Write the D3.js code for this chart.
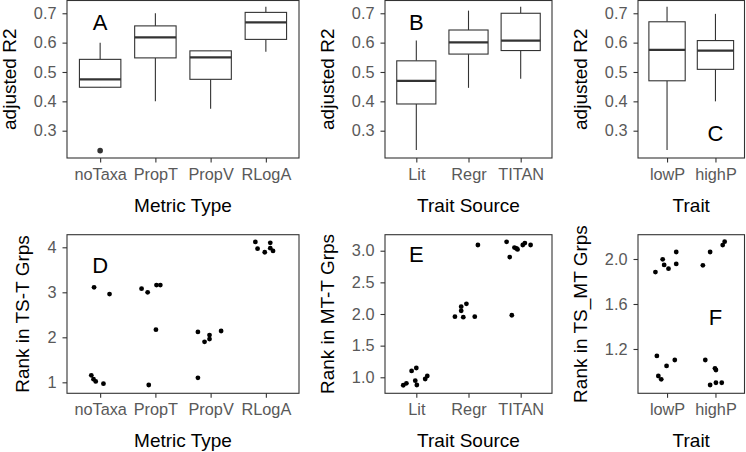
<!DOCTYPE html>
<html>
<head>
<meta charset="utf-8">
<script src="https://cdn.jsdelivr.net/npm/d3@7"></script>
<style>
body { margin: 0; background: #fff; }
svg { display: block; font-family: "Liberation Sans", Arial, sans-serif; }
</style>
</head>
<body>
<svg width="746" height="452"></svg>
<script>
const metricTypes = ["noTaxa", "PropT", "PropV", "RLogA"];
const traitSources = ["Lit", "Regr", "TITAN"];
const traits = ["lowP", "highP"];

// boxplot stats: group, lower whisker, Q1, median, Q3, upper whisker
const r2ByMetric = [
    ["noTaxa", 0.447, 0.448, 0.475, 0.543, 0.600],
    ["PropT", 0.400, 0.548, 0.618, 0.657, 0.700],
    ["PropV", 0.375, 0.475, 0.550, 0.572, 0.573],
    ["RLogA", 0.569, 0.611, 0.669, 0.703, 0.722]
];
const r2ByMetricOutliers = [["noTaxa", 0.232]];
const r2BySource = [
    ["Lit", 0.234, 0.391, 0.470, 0.538, 0.607],
    ["Regr", 0.446, 0.561, 0.601, 0.643, 0.709],
    ["TITAN", 0.477, 0.573, 0.607, 0.700, 0.722]
];
const r2ByTrait = [
    ["lowP", 0.234, 0.470, 0.575, 0.671, 0.722],
    ["highP", 0.400, 0.509, 0.573, 0.607, 0.698]
];

// jittered points: group, jitter (share of category step), rank
const rankTS_T = [
    ["noTaxa", -0.11, 3.11], ["noTaxa", 0.17, 2.96], ["noTaxa", -0.16, 1.156],
    ["noTaxa", -0.12, 1.07], ["noTaxa", -0.08, 1.02], ["noTaxa", 0.06, 0.97],
    ["PropT", -0.25, 3.08], ["PropT", -0.14, 3.00], ["PropT", 0.02, 3.16],
    ["PropT", 0.09, 3.16], ["PropT", 0.01, 2.17], ["PropT", -0.12, 0.94],
    ["PropV", -0.23, 2.12], ["PropV", -0.11, 1.90], ["PropV", -0.02, 2.05],
    ["PropV", -0.02, 1.96], ["PropV", 0.19, 2.14], ["PropV", -0.23, 1.10],
    ["RLogA", -0.19, 4.12], ["RLogA", -0.15, 3.97], ["RLogA", -0.02, 3.89],
    ["RLogA", 0.08, 4.10], ["RLogA", 0.08, 3.98], ["RLogA", 0.13, 3.92]
];
const rankMT_T = [
    ["Lit", -0.25, 0.874], ["Lit", -0.19, 0.905], ["Lit", -0.09, 1.10], ["Lit", 0.00, 1.147],
    ["Lit", -0.02, 0.946], ["Lit", 0.01, 0.878], ["Lit", 0.17, 0.973], ["Lit", 0.21, 1.02],
    ["Regr", 0.18, 3.09], ["Regr", -0.26, 1.957], ["Regr", -0.14, 2.05], ["Regr", -0.14, 2.115],
    ["Regr", -0.04, 2.16], ["Regr", -0.10, 1.95], ["Regr", 0.12, 1.957],
    ["TITAN", -0.27, 3.14], ["TITAN", -0.12, 3.05], ["TITAN", -0.08, 3.035], ["TITAN", -0.06, 3.02],
    ["TITAN", 0.04, 3.09], ["TITAN", 0.08, 3.12], ["TITAN", 0.19, 3.09],
    ["TITAN", -0.21, 2.90], ["TITAN", -0.17, 1.98]
];
const rankTS_MT = [
    ["lowP", -0.24, 1.884], ["lowP", -0.09, 1.997], ["lowP", -0.06, 1.947], ["lowP", 0.03, 1.914],
    ["lowP", 0.19, 2.062], ["lowP", 0.19, 1.956], ["lowP", -0.21, 1.138], ["lowP", -0.01, 1.049],
    ["lowP", 0.16, 1.102], ["lowP", -0.18, 0.96], ["lowP", -0.12, 0.93],
    ["highP", -0.26, 1.944], ["highP", -0.11, 2.062], ["highP", 0.15, 2.124], ["highP", 0.19, 2.154],
    ["highP", -0.21, 1.102], ["highP", -0.01, 1.028], ["highP", 0.01, 1.013],
    ["highP", -0.11, 0.88], ["highP", 0.01, 0.90], ["highP", 0.13, 0.90]
];

const r2Ticks = [0.3, 0.4, 0.5, 0.6, 0.7];
const rankTS_TTicks = [1, 2, 3, 4];
const rankMT_TTicks = [1.0, 1.5, 2.0, 2.5, 3.0];
const rankTS_MTTicks = [1.2, 1.6, 2.0];

// panel letter: text, group, value
const labelA = ["A", "noTaxa", 0.67];
const labelB = ["B", "Lit", 0.67];
const labelC = ["C", "highP", 0.293];
const labelD = ["D", "noTaxa", 3.6];
const labelE = ["E", "Lit", 2.95];
const labelF = ["F", "highP", 1.487];

const cols = [[67, 299], [385, 552], [638, 744.5]];
const rows = [[0.5, 158], [234.7, 393.3]];

function createPanel(svg, cats, area, yDomain, yTicks, fmt, xTitle, yTitle) {
    let scaleX = d3.scalePoint()
        .domain(cats)
        .range([area.x0, area.x1])
        .padding(0.6);
    let scaleY = d3.scaleLinear()
        .domain(yDomain)
        .range([area.y1, area.y0]);

    let axisX = d3.axisBottom(scaleX).tickSize(4.5).tickPadding(6);
    let axisY = d3.axisLeft(scaleY).tickValues(yTicks).tickFormat(d3.format(fmt))
        .tickSize(4.5).tickPadding(6);

    let gx = svg.append("g")
        .attr("transform", `translate(0, ${area.y1})`)
        .call(axisX);
    let gy = svg.append("g")
        .attr("transform", `translate(${area.x0}, 0)`)
        .call(axisY);

    for (let g of [gx, gy]) {
        g.attr("font-family", null).attr("font-size", null);
        g.select(".domain").remove();
        g.selectAll("line").attr("stroke", "#333").attr("stroke-width", 1.1);
        g.selectAll("text").attr("fill", "#595959").style("font-size", "16.3px");
    }

    // y title sits next to the widest tick label
    const box = gy.node().getBBox();
    const titleX = Math.max(area.x0 + box.x - 18, 15);
    svg.append("text")
        .attr("transform", `translate(${titleX}, ${(area.y0 + area.y1) / 2}) rotate(-90)`)
        .attr("text-anchor", "middle")
        .style("font-size", "19px")
        .text(yTitle);

    svg.append("text")
        .attr("x", (area.x0 + area.x1) / 2)
        .attr("y", area.y1 + 54)
        .attr("text-anchor", "middle")
        .style("font-size", "19px")
        .text(xTitle);

    return [scaleX, scaleY];
}

function drawBorder(svg, area) {
    svg.append("rect")
        .attr("x", area.x0)
        .attr("y", area.y0)
        .attr("width", area.x1 - area.x0)
        .attr("height", area.y1 - area.y0)
        .attr("fill", "none")
        .attr("stroke", "#333")
        .attr("stroke-width", 1.1);
}

function drawLabel(svg, label, scaleX, scaleY) {
    svg.append("text")
        .attr("x", scaleX(label[1]))
        .attr("y", scaleY(label[2]))
        .attr("text-anchor", "middle")
        .attr("dy", "0.36em")
        .style("font-size", "22px")
        .text(label[0]);
}

function drawBoxes(svg, data, outliers, scaleX, scaleY) {
    const bw = scaleX.step() * 0.75;

    svg.selectAll(".whisker-hi")
        .data(data)
        .enter()
        .append("line")
        .attr("x1", d => scaleX(d[0]))
        .attr("x2", d => scaleX(d[0]))
        .attr("y1", d => scaleY(d[5]))
        .attr("y2", d => scaleY(d[4]))
        .attr("stroke", "#333")
        .attr("stroke-width", 1.1);

    svg.selectAll(".whisker-lo")
        .data(data)
        .enter()
        .append("line")
        .attr("x1", d => scaleX(d[0]))
        .attr("x2", d => scaleX(d[0]))
        .attr("y1", d => scaleY(d[2]))
        .attr("y2", d => scaleY(d[1]))
        .attr("stroke", "#333")
        .attr("stroke-width", 1.1);

    svg.selectAll(".box")
        .data(data)
        .enter()
        .append("rect")
        .attr("x", d => scaleX(d[0]) - bw / 2)
        .attr("y", d => scaleY(d[4]))
        .attr("width", bw)
        .attr("height", d => scaleY(d[2]) - scaleY(d[4]))
        .attr("fill", "white")
        .attr("stroke", "#333")
        .attr("stroke-width", 1.1);

    svg.selectAll(".median")
        .data(data)
        .enter()
        .append("line")
        .attr("x1", d => scaleX(d[0]) - bw / 2)
        .attr("x2", d => scaleX(d[0]) + bw / 2)
        .attr("y1", d => scaleY(d[3]))
        .attr("y2", d => scaleY(d[3]))
        .attr("stroke", "#333")
        .attr("stroke-width", 2.2);

    svg.selectAll(".outlier")
        .data(outliers)
        .enter()
        .append("circle")
        .attr("cx", d => scaleX(d[0]))
        .attr("cy", d => scaleY(d[1]))
        .attr("r", 2.8)
        .attr("fill", "#333");
}

function drawJitter(svg, data, scaleX, scaleY) {
    svg.selectAll(".pt")
        .data(data)
        .enter()
        .append("circle")
        .attr("cx", d => scaleX(d[0]) + d[1] * scaleX.step())
        .attr("cy", d => scaleY(d[2]))
        .attr("r", 2.4)
        .attr("fill", "black");
}

function area(c, r) {
    return { x0: cols[c][0], x1: cols[c][1], y0: rows[r][0], y1: rows[r][1] };
}

let svg = d3.select("svg");
const r2Domain = [0.207, 0.7435];

// A
let aA = area(0, 0);
let [sxA, syA] = createPanel(svg, metricTypes, aA, r2Domain, r2Ticks, ".1f", "Metric Type", "adjusted R2");
drawBoxes(svg, r2ByMetric, r2ByMetricOutliers, sxA, syA);
drawLabel(svg, labelA, sxA, syA);
drawBorder(svg, aA);

// B
let aB = area(1, 0);
let [sxB, syB] = createPanel(svg, traitSources, aB, r2Domain, r2Ticks, ".1f", "Trait Source", "adjusted R2");
drawBoxes(svg, r2BySource, [], sxB, syB);
drawLabel(svg, labelB, sxB, syB);
drawBorder(svg, aB);

// C
let aC = area(2, 0);
let [sxC, syC] = createPanel(svg, traits, aC, r2Domain, r2Ticks, ".1f", "Trait", "adjusted R2");
drawBoxes(svg, r2ByTrait, [], sxC, syC);
drawLabel(svg, labelC, sxC, syC);
drawBorder(svg, aC);

// D
let aD = area(0, 1);
let [sxD, syD] = createPanel(svg, metricTypes, aD, [0.756, 4.28], rankTS_TTicks, "d", "Metric Type", "Rank in TS-T Grps");
drawJitter(svg, rankTS_T, sxD, syD);
drawLabel(svg, labelD, sxD, syD);
drawBorder(svg, aD);

// E
let aE = area(1, 1);
let [sxE, syE] = createPanel(svg, traitSources, aE, [0.747, 3.253], rankMT_TTicks, ".1f", "Trait Source", "Rank in MT-T Grps");
drawJitter(svg, rankMT_T, sxE, syE);
drawLabel(svg, labelE, sxE, syE);
drawBorder(svg, aE);

// F
let aF = area(2, 1);
let [sxF, syF] = createPanel(svg, traits, aF, [0.806, 2.216], rankTS_MTTicks, ".1f", "Trait", "Rank in TS_MT Grps");
drawJitter(svg, rankTS_MT, sxF, syF);
drawLabel(svg, labelF, sxF, syF);
drawBorder(svg, aF);
</script>
</body>
</html>
